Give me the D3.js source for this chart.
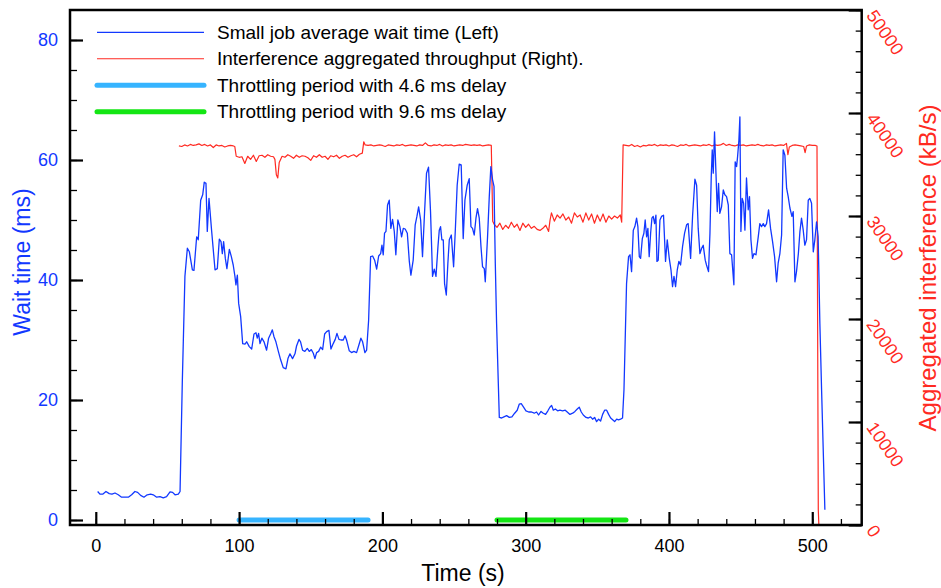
<!DOCTYPE html>
<html lang="en">
<head>
<meta charset="utf-8">
<title>Small job wait time vs interference throughput</title>
<script src="https://d3js.org/d3.v7.min.js"></script>
<style>
  body { margin: 0; background: #fff; font-family: "Liberation Sans", Arial, Helvetica, sans-serif; }
</style>
</head>
<body>
<div class="chart"></div>
<script>
// small job average wait time (ms), [time s, value]
const waitTime = [
  [1.3,4.75],[2.9,4.3],[4.8,4.3],[7.1,4.75],[9.4,4.4],[11.3,4.3],[13.4,4.5],[15.7,4.2],[18.0,3.8],[20.4,3.8],
  [22.7,3.8],[25.0,4.2],[27.3,4.75],[29.2,4.6],[31.3,4.1],[33.6,3.8],[35.9,4.2],[38.3,4.3],[40.1,4.2],[42.5,3.8],
  [44.8,3.9],[47.1,3.7],[49.4,3.9],[51.8,4.7],[53.6,4.6],[55.3,4.2],[57.6,4.3],[58.8,4.75],
  [60.4,23.3],[62.2,40.6],[63.9,45.3],[65.3,44.7],[67.4,41.7],[68.5,41.6],[70.4,47.2],[71.5,46.7],[73.2,53.3],
  [74.6,54.2],[75.7,56.3],[76.9,56.1],[77.8,48.1],[79.0,53.6],[80.8,48.3],[83.2,41.7],[84.8,41.9],[86.2,46.8],
  [87.4,46.4],[88.3,44.4],[89.2,46.4],[90.4,43.6],[91.5,41.9],[93.2,45.1],[94.6,43.9],[95.9,42.5],[97.1,40.6],
  [97.8,39.2],[98.8,40.8],[99.7,36.1],[101.1,33.9],[102.5,29.4],[104.1,29.3],[105.3,29.7],[107.1,28.9],[108.8,28.5],
  [110.4,31.0],[111.8,31.2],[112.7,30.3],[113.6,31.1],[114.6,29.4],[115.9,30.3],[117.4,29.7],[119.2,28.3],[120.6,30.3],
  [122.0,31.0],[123.2,31.7],[124.3,30.6],[125.7,29.7],[127.4,28.1],[129.0,26.7],[130.8,25.4],[132.7,25.2],[134.1,26.9],
  [135.5,27.7],[137.3,26.9],[139.0,27.7],[140.1,29.0],[141.8,30.1],[142.9,29.7],[144.3,28.3],[145.9,28.1],[147.6,28.6],
  [149.0,28.1],[150.4,28.4],[151.8,27.8],[152.9,26.9],[154.1,27.9],[155.5,28.1],[156.9,28.8],[158.3,28.4],[159.7,31.0],
  [161.1,31.4],[162.7,31.6],[164.1,28.5],[165.7,29.4],[167.1,30.1],[168.3,31.1],[169.7,30.1],[171.1,30.0],[172.7,30.0],
  [173.9,30.7],[175.0,30.0],[176.9,28.2],[178.5,27.9],[180.1,28.1],[182.0,27.9],[183.4,29.0],[185.0,30.3],[186.2,29.7],
  [187.8,27.9],[189.0,28.3],[190.4,33.3],[191.8,43.9],[193.2,44.0],[194.6,43.3],[196.0,41.8],[197.4,44.0],[198.8,44.4],
  [199.7,45.8],[200.6,44.2],[201.5,47.8],[202.5,48.1],[203.6,52.5],[204.8,53.3],[205.9,48.6],[207.1,50.1],[208.3,48.1],
  [209.4,44.2],[210.8,50.0],[212.2,48.9],[213.4,47.2],[214.6,48.6],[215.9,48.5],[217.4,47.8],[218.8,43.1],[219.9,40.8],
  [221.5,43.3],[222.9,49.2],[224.1,50.6],[225.3,52.2],[226.7,50.0],[228.0,43.9],[229.4,51.1],[230.8,57.8],[232.2,58.8],
  [233.6,51.4],[235.0,40.6],[236.2,41.8],[237.4,40.6],[238.8,45.6],[239.7,48.3],[240.6,48.9],[241.5,46.7],[242.5,46.7],
  [243.4,39.4],[244.6,37.5],[245.7,42.8],[246.7,46.7],[248.1,47.5],[249.7,42.2],[250.9,48.3],[252.2,55.8],[253.6,59.3],
  [255.0,59.2],[256.4,46.9],[257.6,53.3],[259.2,55.8],[260.6,56.9],[261.8,48.9],[262.9,48.6],[264.1,47.5],[265.3,50.3],
  [266.4,51.9],[267.6,50.3],[268.8,45.6],[269.9,42.2],[271.1,41.9],[271.8,39.7],[273.4,47.2],[274.6,53.9],[275.7,58.9],
  [276.9,56.7],[277.9,55.6],[278.8,42.8],[279.7,32.8],[280.9,22.8],[281.6,17.1],
  [283.2,17.0],[284.8,17.2],[286.7,17.4],[288.6,17.1],[290.4,17.2],[292.3,17.8],[294.1,18.3],[295.5,19.3],[296.9,19.4],
  [298.3,18.9],[300.2,18.2],[302.1,18.0],[304.1,18.0],[306.0,17.8],[307.6,18.0],[309.0,17.5],[310.7,18.1],[312.3,17.8],
  [313.9,17.6],[315.5,18.2],[316.9,18.8],[318.1,19.1],[319.3,18.3],[320.7,18.5],[322.3,18.2],[323.9,18.3],[325.8,18.2],
  [327.6,18.3],[329.0,18.0],[330.9,17.6],[332.8,17.8],[334.4,18.1],[336.0,18.5],[337.4,18.8],[338.8,18.0],[340.2,17.5],
  [342.1,17.1],[343.7,17.0],[345.3,17.2],[346.7,16.8],[348.1,17.1],[349.5,16.4],[350.9,16.8],[352.3,16.5],[353.7,17.6],
  [355.1,18.3],[356.5,18.3],[357.9,17.6],[359.3,17.0],[360.7,16.7],[362.1,16.4],[363.5,16.8],[364.8,16.7],[366.2,16.8],
  [367.6,17.0],[368.6,21.7],[370.4,39.4],[371.8,43.9],[372.8,44.2],[373.9,41.4],[375.1,48.3],[376.2,48.9],[377.4,50.3],
  [378.3,48.9],[379.3,43.9],[380.2,43.6],[381.4,46.9],[382.5,47.8],[383.4,50.0],[384.4,47.2],[385.3,48.6],[386.2,43.9],
  [387.2,47.8],[388.1,50.3],[389.0,50.6],[390.0,49.4],[390.9,50.8],[391.6,43.1],[392.5,43.3],[393.7,50.0],[394.8,50.6],
  [396.2,50.8],[397.6,43.1],[398.8,46.7],[400.2,43.6],[401.4,41.7],[402.5,38.9],[403.5,40.6],[404.6,38.9],[405.8,41.7],
  [406.9,43.1],[408.1,42.5],[409.5,45.6],[410.9,47.8],[412.3,49.2],[413.4,49.4],[415.1,43.6],[416.5,50.8],[418.1,56.8],
  [419.3,55.8],[420.4,48.6],[421.6,44.4],[422.8,45.3],[423.9,45.8],[425.3,43.3],[426.2,42.5],[427.6,41.4],[428.6,47.8],
  [429.5,57.2],[430.2,61.7],[430.9,57.8],[431.8,64.7],[432.8,57.8],[433.7,51.4],[434.6,56.1],[435.5,51.1],[436.7,52.2],
  [437.9,55.0],[439.0,54.2],[440.2,53.9],[441.4,52.5],[442.5,44.4],[443.7,44.2],[445.3,39.2],[446.2,59.7],[447.2,58.9],
  [447.9,60.6],[448.8,63.3],[449.5,67.2],[450.2,48.1],[451.1,53.6],[452.1,52.8],[453.0,48.3],[454.1,57.0],[455.3,51.7],
  [456.2,53.9],[457.2,46.7],[458.3,43.6],[459.3,44.4],[460.7,44.2],[462.3,47.2],[463.4,49.4],[464.6,48.9],[465.8,49.4],
  [466.9,48.9],[468.1,49.4],[469.5,51.7],[470.9,48.6],[472.3,46.4],[473.7,43.9],[475.1,39.7],[476.2,42.8],[477.4,44.4],
  [478.6,47.5],[479.7,61.7],[480.9,60.8],[482.1,55.3],[483.2,53.9],[484.4,52.0],[485.8,50.6],[486.7,51.4],[487.9,39.7],
  [489.0,41.4],[490.3,44.4],[491.4,48.1],[492.5,50.3],[493.7,48.3],[494.8,45.8],[496.0,46.7],[497.2,53.3],[498.3,53.6],
  [499.5,52.8],[500.7,44.7],[501.8,46.7],[503.0,49.7],[504.1,47.2],[505.3,32.8],[506.5,21.7],[508.8,1.7]
];

// interference aggregated throughput (kB/s), [time s, value]
const throughput = [
  [58,36800],[60,36750],[62,36900],[64,36800],[66,36950],[68,36850],[70,36900],[72,37000],[74,36850],[76,36950],
  [78,36800],[80,36900],[82,36650],[84,36900],[86,36800],[88,36850],[90,36700],[92,36800],[94,36850],[96,36800],
  [97,36750],[98,35800],[100,35700],[102,35750],[104,35100],[106,35800],[108,35500],[110,35900],[112,35300],[114,35850],
  [116,35900],[118,35700],[120,35950],[122,35800],[124,35750],[125,35500],[126,34000],[127,33700],[128,35200],[130,35800],
  [132,35700],[134,35950],[136,35800],[138,35600],[140,35900],[142,35700],[144,35850],[146,35800],[148,35650],[150,35400],
  [152,35850],[154,35700],[156,35950],[158,35700],[160,35800],[162,35500],[164,35850],[166,35750],[168,35900],[170,35600],
  [172,35800],[174,35900],[176,35700],[178,35850],[180,35950],[182,35750],[184,36000],[186,36100],[187,37200],[188,36900],
  [190,36850],[192,36900],[194,36800],[196,36850],[198,36900],[200,36850],[202,36750],[204,36900],[206,36850],[208,36800],
  [210,36900],[212,36850],[214,36950],[216,36800],[218,36850],[220,36900],[222,36850],[224,36800],[226,36900],[228,36850],
  [230,37100],[232,36850],[234,36800],[236,36900],[238,36850],[240,36950],[242,36800],[244,36900],[246,36850],[248,36900],
  [250,36800],[252,36850],[254,36900],[256,36850],[258,36950],[260,36900],[262,36850],[264,36900],[266,36850],[268,36900],
  [270,36800],[272,36850],[274,36900],[276,36850],[277,29500],[278,29200],[280,28900],[282,29300],[284,28700],[286,29100],
  [288,28800],[290,29400],[292,28900],[294,29200],[296,28600],[298,29300],[300,28900],[302,29200],[304,28800],[306,29000],
  [308,28700],[310,28600],[312,28800],[314,29100],[316,28500],[317,29600],[318,30300],[320,29500],[322,30100],[324,29800],
  [326,30200],[328,29600],[330,29900],[332,29300],[334,30300],[336,29900],[338,30100],[340,29400],[342,30300],[344,29600],
  [346,30200],[348,29300],[350,30100],[352,29500],[354,30200],[356,29400],[358,30000],[360,29700],[362,30000],[364,29800],
  [366,30100],[367,29400],[368,36900],[370,36850],[372,36800],[374,36950],[376,36750],[378,36850],[380,36700],[382,36850],
  [384,36800],[386,36900],[388,36850],[390,36950],[392,36800],[394,36900],[396,36850],[398,36900],[400,36800],[402,36900],
  [404,36850],[406,36750],[408,36900],[410,36850],[412,36950],[414,36800],[416,36850],[418,36900],[420,36850],[422,36800],
  [424,36900],[426,36850],[428,36950],[430,36800],[432,36900],[434,36850],[436,36900],[438,37050],[440,36850],[442,36950],
  [444,36850],[446,36800],[448,36900],[450,36850],[452,36900],[454,36800],[456,36850],[458,36900],[460,36850],[462,36950],
  [464,36850],[466,36800],[468,36900],[470,36850],[472,36900],[474,36800],[476,36850],[478,36900],[480,36850],[482,37050],
  [483,35950],[484,36700],[486,36850],[488,36900],[490,36850],[492,36800],[494,36750],[495,36150],[496,36800],[498,36900],
  [500,36850],[502,36850],[503.3,36800],[504.2,1500],[504.6,0]
];

// throttling periods (s)
const throttleStart = [100, 280];
const throttleEnd = [190, 370];

const legendLabels = [
  "Small job average wait time (Left)",
  "Interference aggregated throughput (Right).",
  "Throttling period with 4.6 ms delay",
  "Throttling period with 9.6 ms delay"
];

const xTicks = [0, 100, 200, 300, 400, 500];
const leftTicks = [0, 20, 40, 60, 80];
const rightTicks = [0, 10000, 20000, 30000, 40000, 50000];

const W = 941, H = 588;
const frame = {left: 70, right: 861.7, top: 10, bottom: 525};
const font = '"Liberation Sans", Arial, Helvetica, sans-serif';
const blue = "#1238ff", red = "#ff2a22";
const throttleColors = ["#36b4ff", "#14e614"];

const x = d3.scaleLinear().domain([-18, 534.5]).range([frame.left, frame.right]);
const yL = d3.scaleLinear().domain([-0.833, 85]).range([frame.bottom, frame.top]);
const yR = d3.scaleLinear().domain([0, 50000]).range([frame.bottom, frame.top]);

const svg = d3.select(".chart").append("svg")
    .attr("width", W).attr("height", H)
    .style("font-family", font);

// data lines
const redLine = d3.line().x(d => x(d[0])).y(d => yR(d[1]));
const blueLine = d3.line().x(d => x(d[0])).y(d => yL(d[1]));

svg.append("path").datum(throughput)
    .attr("d", redLine).attr("fill", "none")
    .attr("stroke", red).attr("stroke-width", 1.2).attr("stroke-linejoin", "round");

svg.append("path").datum(waitTime)
    .attr("d", blueLine).attr("fill", "none")
    .attr("stroke", blue).attr("stroke-width", 1.3).attr("stroke-linejoin", "round");

// throttle periods drawn on the zero line
svg.selectAll("line.throttle")
    .data(throttleStart)
    .enter().append("line")
    .attr("class", "throttle")
    .attr("x1", d => x(d))
    .attr("x2", (d, i) => x(throttleEnd[i]))
    .attr("y1", yL(0)).attr("y2", yL(0))
    .attr("stroke", (d, i) => throttleColors[i])
    .attr("stroke-width", 5)
    .attr("stroke-linecap", "round");

// axes
function styleAxis(g, width) {
  g.select(".domain").remove();
  g.selectAll(".tick line").attr("stroke", "#000").attr("stroke-width", width);
  g.selectAll("text").attr("font-size", 18).attr("font-family", font);
}

// bottom
svg.append("g").attr("transform", `translate(0,${frame.bottom})`)
    .call(d3.axisBottom(x).tickValues(d3.range(0, 521, 20)).tickSize(-6).tickFormat(""))
    .call(g => styleAxis(g, 1.3));
svg.append("g").attr("transform", `translate(0,${frame.bottom})`)
    .call(d3.axisBottom(x).tickValues(xTicks).tickSize(-13).tickPadding(14))
    .call(g => styleAxis(g, 2.2))
    .call(g => g.selectAll("text").attr("fill", "#000"));

// left
svg.append("g").attr("transform", `translate(${frame.left},0)`)
    .call(d3.axisLeft(yL).tickValues(d3.range(0, 85, 5)).tickSize(-7).tickFormat(""))
    .call(g => styleAxis(g, 1.3));
svg.append("g").attr("transform", `translate(${frame.left},0)`)
    .call(d3.axisLeft(yL).tickValues(leftTicks).tickSize(-13).tickPadding(12))
    .call(g => styleAxis(g, 2.2))
    .call(g => g.selectAll("text").attr("fill", blue));

// right
svg.append("g").attr("transform", `translate(${frame.right},0)`)
    .call(d3.axisRight(yR).tickValues(d3.range(0, 50001, 2000)).tickSize(-6).tickFormat(""))
    .call(g => styleAxis(g, 1.3));
svg.append("g").attr("transform", `translate(${frame.right},0)`)
    .call(d3.axisRight(yR).tickValues(rightTicks).tickSize(-13).tickFormat(d3.format("d")))
    .call(g => styleAxis(g, 2.2))
    .call(g => g.selectAll("text")
        .attr("fill", red)
        .attr("x", null).attr("dy", null)
        .attr("text-anchor", "start")
        .attr("transform", "translate(4,5) rotate(55)"));

// frame
svg.append("rect")
    .attr("x", frame.left).attr("y", frame.top)
    .attr("width", frame.right - frame.left).attr("height", frame.bottom - frame.top)
    .attr("fill", "none").attr("stroke", "#000").attr("stroke-width", 2.5);

// axis titles
svg.append("text")
    .attr("x", 463).attr("y", 581)
    .attr("text-anchor", "middle").attr("font-size", 23)
    .attr("fill", "#000").text("Time (s)");

svg.append("text")
    .attr("transform", "translate(30,262) rotate(-90)")
    .attr("text-anchor", "middle").attr("font-size", 23)
    .attr("fill", blue).text("Wait time (ms)");

svg.append("text")
    .attr("transform", "translate(936,268) rotate(-90)")
    .attr("text-anchor", "middle").attr("font-size", 24)
    .attr("fill", red).text("Aggregated interference (kB/s)");

// legend
const legendColors = [blue, red].concat(throttleColors);
const legendWidths = [1.3, 1.2, 5, 5];
const legend = svg.append("g").attr("transform", "translate(0,32.3)");
legend.selectAll("line")
    .data(legendLabels)
    .enter().append("line")
    .attr("x1", 97).attr("x2", 204)
    .attr("y1", (d, i) => i * 26.45).attr("y2", (d, i) => i * 26.45)
    .attr("stroke", (d, i) => legendColors[i])
    .attr("stroke-width", (d, i) => legendWidths[i])
    .attr("stroke-linecap", (d, i) => i > 1 ? "round" : "butt");
legend.selectAll("text")
    .data(legendLabels)
    .enter().append("text")
    .attr("x", 217)
    .attr("y", (d, i) => i * 26.45)
    .attr("dy", "0.35em")
    .attr("font-size", 19)
    .attr("fill", "#000")
    .text(d => d);
</script>
</body>
</html>
